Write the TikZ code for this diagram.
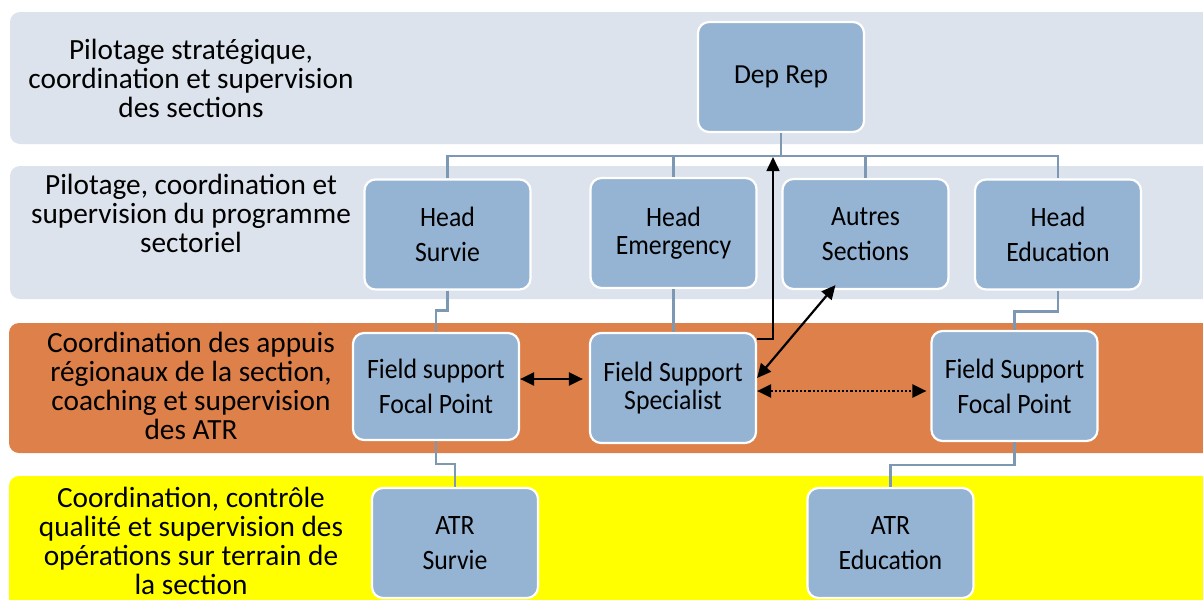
\documentclass[tikz,border=0pt]{standalone}
\usepackage{fontspec}
\setmainfont{Carlito}
\newfontfamily\unitfont[FakeStretch=0.92]{Carlito}
\usetikzlibrary{arrows.meta}
\definecolor{bandgray}{RGB}{220,227,236}
\definecolor{boxblue}{RGB}{149,179,211}
\definecolor{bandorange}{RGB}{222,128,73}
\definecolor{bandyellow}{RGB}{255,255,0}
\definecolor{connline}{RGB}{124,152,179}
\begin{document}
\begin{tikzpicture}[x=1pt,y=-1pt,
  unit/.style={rectangle, rounded corners=11pt, draw=white, line width=2.2pt,
    fill=boxblue, minimum width=166pt, minimum height=110pt, align=center,
    font=\unitfont\fontsize{28}{35}\selectfont, inner sep=0pt},
  tight/.style={font=\unitfont\fontsize{28}{28}\selectfont},
  plain/.style={font=\fontsize{27.5}{33}\selectfont},
  level/.style={align=center, font=\fontsize{29.3}{29}\selectfont, inner sep=0pt},
  conn/.style={draw=connline, line width=2.6pt},
  tipA/.tip={Triangle[length=14pt,width=13pt]},
  link/.style={draw=black, line width=2.2pt, tipA-tipA},
  dotlink/.style={link, dotted},
  uplink/.style={draw=black, line width=1.6pt, -tipA},
]
\useasboundingbox (0,0) rectangle (1203,600);

% background bands, one per management level
\fill[bandgray, rounded corners=10pt] (10,12) rectangle (1220,144);
\fill[bandgray, rounded corners=10pt] (10,166) rectangle (1220,299);
\fill[bandorange, rounded corners=10pt] (9,323) rectangle (1220,453);
\fill[bandyellow, rounded corners=10pt] (9,476) rectangle (1220,640);

% level descriptions
\node[level] (l1) at (191,78) {Pilotage stratégique,\\coordination et supervision\\des sections};
\node[level] (l2) at (191,213) {Pilotage, coordination et\\supervision du programme\\sectoriel};
\node[level] (l3) at (191,386) {Coordination des appuis\\régionaux de la section,\\coaching et supervision\\des ATR};
\node[level] (l4) at (191,541) {Coordination, contrôle\\qualité et supervision des\\opérations sur terrain de\\la section};

% units
\node[unit, plain] (dep) at (781,77) {Dep Rep};
\node[unit] (hs) at (447.5,234.5) {Head\\Survie};
\node[unit, tight] (hem) at (673.5,233) {Head\\Emergency};
\node[unit] (aut) at (865.5,234) {Autres\\Sections};
\node[unit] (hed) at (1058,234.5) {Head\\Education};
\node[unit, minimum height=107pt] (fsl) at (436,386.5) {Field support\\Focal Point};
\node[unit, tight] (fss) at (673,388) {Field Support\\Specialist};
\node[unit] (fsr) at (1014.5,386) {Field Support\\Focal Point};
\node[unit] (atrs) at (455,543) {ATR\\Survie};
\node[unit] (atre) at (890.5,543) {ATR\\Education};

% hierarchy connectors
\coordinate (bus) at (781,156);
\coordinate (tipbus) at (773,157);
\draw[conn] (dep.south) -- (bus);
\draw[conn] (hs.north) |- (bus);
\draw[conn] (hem.north) |- (bus);
\draw[conn] (aut.north) |- (bus);
\draw[conn] (hed.north) |- (bus);
\draw[conn] (hs.south) -- ++(0,20) -| (fsl.north);
\draw[conn] (hem.south) -- (fss.north -| hem.south);
\draw[conn] (hed.south) -- ++(0,21) -| (fsr.north);
\draw[conn] (fsl.south) -- ++(0,23) -| (atrs.north);
\draw[conn] (fsr.south) -- ++(0,23) -| (atre.north);

% working relations
\draw[link, shorten >=6pt] ([yshift=7.5pt]fsl.east) -- ([yshift=7.5pt]fsl.east -| fss.west);
\draw[dotlink, shorten >=4pt] ([yshift=-3pt]fss.east) -- ([yshift=-3pt]fss.east -| fsr.west);
\draw[link] ([yshift=10pt]fss.east) -- ([xshift=-30pt,yshift=5pt]aut.south);
\draw[uplink] ([yshift=-7pt]fss.north east) -| (tipbus);
\end{tikzpicture}
\end{document}
